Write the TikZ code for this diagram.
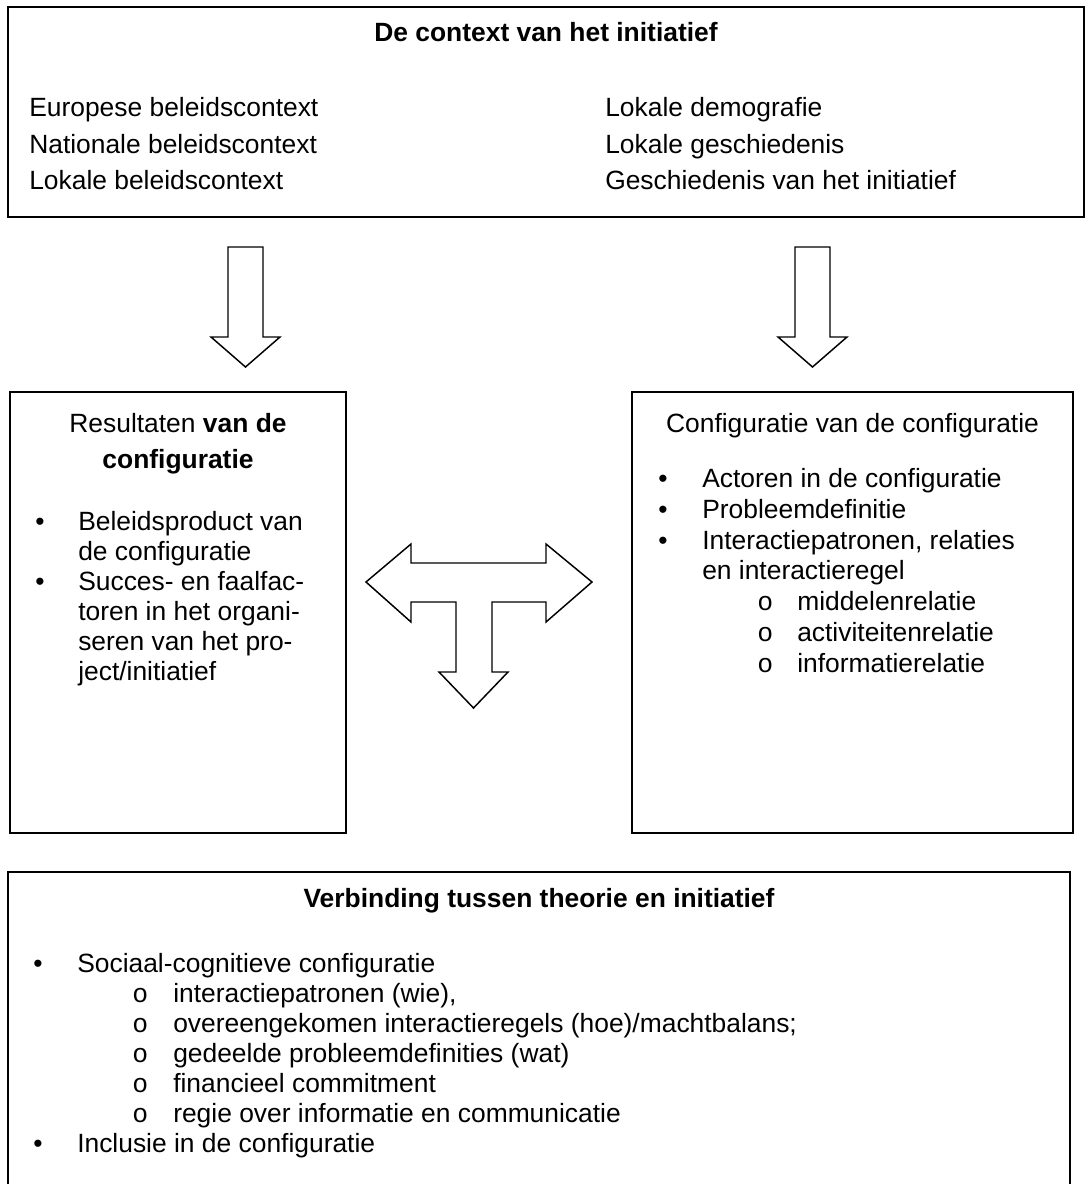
\documentclass[tikz,border=0pt]{standalone}
\usepackage{fontspec}
\setmainfont{Liberation Sans}
\newfontfamily\circfont{Liberation Mono}
\usetikzlibrary{calc}

\newcommand{\bodyfont}{\fontsize{19.8}{24}\selectfont}
\newcommand{\subbullet}{{\circfont o}}

\tikzset{
  frame/.style={draw, line width=1.5pt, inner sep=0pt},
  line/.style={inner sep=0pt, anchor=base west, font=\bodyfont},
  title/.style={inner sep=0pt, anchor=base, font=\bodyfont\bfseries},
  fatarrow/.style={draw, line width=1.1pt, fill=white, line join=miter},
}

\begin{document}
\begin{tikzpicture}[x=0.75pt, y=-0.75pt]
    \useasboundingbox (0,0) rectangle (1088,1184);

    % boxes
    \node[frame, minimum width=807pt, minimum height=157.5pt] (ctx) at (546,112) {};
    \node[frame, minimum width=252pt, minimum height=330.75pt] (res) at (178,612.5) {};
    \node[frame, minimum width=330.75pt, minimum height=330.75pt] (conf) at (852.5,612.5) {};
    \coordinate (vtl) at (8,872);
    \coordinate (vtr) at (1070,872);
    \coordinate (vbl) at (8,1184);
    \coordinate (vbr) at (1070,1184);
    \draw[line width=1.5pt] (vbl) -- (vtl) -- (vtr) -- (vbr);

    % context
    \node[title] (ctxtitle) at (546,42) {De context van het initiatief};
    \node[line] (eu) at (29,117) {Europese beleidscontext};
    \node[line] (nat) at (29,153.5) {Nationale beleidscontext};
    \node[line] (lok) at (29,190) {Lokale beleidscontext};
    \node[line] (demo) at (605,117) {Lokale demografie};
    \node[line] (hist) at (605,153.5) {Lokale geschiedenis};
    \node[line] (inihist) at (605,190) {Geschiedenis van het initiatief};

    % down arrows
    \draw[fatarrow] (228,247) -- (263,247) -- (263,337) -- (280,337) -- (245.5,367)
      -- (211,337) -- (228,337) -- cycle;
    \draw[fatarrow] (795,247) -- (830,247) -- (830,337) -- (847,337) -- (812.5,367)
      -- (778,337) -- (795,337) -- cycle;

    % resultaten
    \node[line, anchor=base] (restitle) at (178,432) {Resultaten \textbf{van de}};
    \node[line, anchor=base] (restitleb) at (178,468) {\textbf{configuratie}};
    \node[line] (rb1) at (35,530) {\textbullet};
    \node[line] (rt1) at (78,530) {Beleidsproduct van};
    \node[line] (rt2) at (78,560) {de configuratie};
    \node[line] (rb2) at (35,590) {\textbullet};
    \node[line] (rt3) at (78,590) {Succes- en faalfac-};
    \node[line] (rt4) at (78,620) {toren in het organi-};
    \node[line] (rt5) at (78,650) {seren van het pro-};
    \node[line] (rt6) at (78,680) {ject/initiatief};

    % configuratie
    \node[line, anchor=base] (conftitle) at (852.5,432) {Configuratie van de configuratie};
    \node[line] (cb1) at (658,487) {\textbullet};
    \node[line] (ct1) at (702,487) {Actoren in de configuratie};
    \node[line] (cb2) at (658,518) {\textbullet};
    \node[line] (ct2) at (702,518) {Probleemdefinitie};
    \node[line] (cb3) at (658,549) {\textbullet};
    \node[line] (ct3) at (702,549) {Interactiepatronen, relaties};
    \node[line] (ct4) at (702,579) {en interactieregel};
    \node[line] (cc1) at (757,610) {\subbullet};
    \node[line] (cs1) at (797,610) {middelenrelatie};
    \node[line] (cc2) at (757,641) {\subbullet};
    \node[line] (cs2) at (797,641) {activiteitenrelatie};
    \node[line] (cc3) at (757,672) {\subbullet};
    \node[line] (cs3) at (797,672) {informatierelatie};

    % T arrow
    \draw[fatarrow] (366,582) -- (411,544) -- (411,563) -- (546,563) -- (546,544)
      -- (592,582) -- (546,622) -- (546,602) -- (492,602) -- (492,672) -- (508,672)
      -- (473.5,708) -- (439,672) -- (456,672) -- (456,602) -- (411,602) -- (411,622)
      -- cycle;

    % verbinding
    \node[title] (vtitle) at (539,907) {Verbinding tussen theorie en initiatief};
    \node[line] (vb1) at (33,972) {\textbullet};
    \node[line] (vt1) at (77,972) {Sociaal-cognitieve configuratie};
    \node[line] (vc1) at (132,1002) {\subbullet};
    \node[line] (vs1) at (173,1002) {interactiepatronen (wie),};
    \node[line] (vc2) at (132,1032) {\subbullet};
    \node[line] (vs2) at (173,1032) {overeengekomen interactieregels (hoe)/machtbalans;};
    \node[line] (vc3) at (132,1062) {\subbullet};
    \node[line] (vs3) at (173,1062) {gedeelde probleemdefinities (wat)};
    \node[line] (vc4) at (132,1092) {\subbullet};
    \node[line] (vs4) at (173,1092) {financieel commitment};
    \node[line] (vc5) at (132,1122) {\subbullet};
    \node[line] (vs5) at (173,1122) {regie over informatie en communicatie};
    \node[line] (vb2) at (33,1152) {\textbullet};
    \node[line] (vt2) at (77,1152) {Inclusie in de configuratie};
\end{tikzpicture}
\end{document}
